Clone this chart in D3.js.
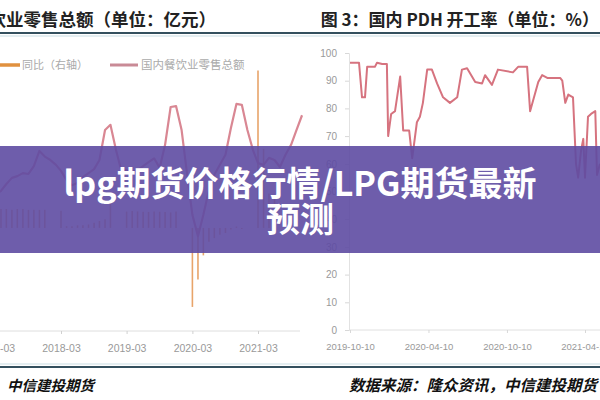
<!DOCTYPE html>
<html><head><meta charset="utf-8">
<script src="https://cdn.jsdelivr.net/npm/d3@7"></script>
<style>body{margin:0;background:#fff}svg{display:block}</style>
</head><body><svg id="c" width="600" height="400"></svg>
<script>
// ---- Left chart: 国内餐饮业零售总额 (monthly, from 2017-03) & 同比 (右轴)
const leftStart = "2017-03";
const retailTotal = [3150,3220,3380,3520,3560,3630,3610,3790,4140,4010,3930,3820,3680,3470,3350,3400,3540,3630,3720,3930,4620,4740,4160,3660,3700,3660,3700,3790,3880,3970,3750,4280,5150,5170,4620,3590,2670,2180,2670,3240,3590,3820,4050,4660,5220,5200,4620,4160,3860,3820,3980,3930,3770,4050,4280,4620,4960];
const yoyRight = [10.8,11,11,10.5,11,11,10.5,10.5,10.5,10.5,null,null,10,1,1,1.5,1.5,2,3,4,5,21,null,null,9.5,9.8,9.6,9.4,9.3,9.5,9.4,9.3,9.0,9.6,null,null,-46,-30,-16,-8,-6,-4,-3,-1,0.8,-0.6,0,null,91.6,46,20,17];
const leftTicks = ["2017-03","2018-03","2019-03","2020-03","2021-03"];

// ---- Right chart: 国内 PDH 开工率 (%)
const pdhDates = ["2019-10-10","2019-10-31","2019-11-07","2019-11-14","2019-11-19","2019-12-07","2019-12-12","2019-12-24","2020-01-04","2020-01-07","2020-01-14","2020-01-23","2020-02-04","2020-02-11","2020-02-25","2020-03-03","2020-03-14","2020-03-21","2020-03-28","2020-04-07","2020-04-18","2020-04-30","2020-05-14","2020-05-30","2020-06-16","2020-06-27","2020-07-09","2020-07-28","2020-08-13","2020-08-20","2020-09-05","2020-09-19","2020-10-24","2020-11-05","2020-11-19","2020-11-26","2020-12-03","2020-12-22","2020-12-31","2021-01-12","2021-02-11","2021-02-16","2021-02-23","2021-03-02","2021-03-13","2021-03-20","2021-03-25","2021-04-01","2021-04-06","2021-04-10","2021-04-17","2021-04-24","2021-05-04","2021-05-08","2021-05-15"];
const pdhValues = [96.5,96.5,84,84,95,95,96.5,96,96,70,78,79,91.5,72,72,62,75,77,82,94,94,89,84,82,84,94,94.5,89.5,89,92,88.5,94,93,95,95,95,79,89.5,92,91,91,90,82,85,84,60,55,65,69,55,77,78,79,56,60];
const pdhTicksY = [0,10,20,30,40,50,60,70,80,90,100];
const pdhTicksX = ["2019-10-10","2020-04-10","2020-10-10","2021-04-10"];

const titleLeft = "餐饮业零售总额（单位：亿元）";
const titleRight = "图 3：国内 PDH 开工率（单位：%）";
const legendLabels = ["同比（右轴）","国内餐饮业零售总额"];
const footLeft = "中信建投期货";
const footRight = "数据来源：隆众资讯，中信建投期货";
const bannerLines = ["lpg期货价格行情/LPG期货最新","预测"];

const svg = d3.select("#c");
const parseM = d3.timeParse("%Y-%m");
const parseD = d3.timeParse("%Y-%m-%d");
const CJK = "'Noto Sans CJK SC','Noto Sans',sans-serif";

// header / footer rules
svg.append("line").attr("x1",0).attr("x2",600).attr("y1",33).attr("y2",33).attr("stroke","#34505e").attr("stroke-width",2.2);
svg.append("line").attr("x1",0).attr("x2",600).attr("y1",36).attr("y2",36).attr("stroke","#c9dde3").attr("stroke-width",1);
svg.append("line").attr("x1",0).attr("x2",600).attr("y1",364).attr("y2",364).attr("stroke","#c9dde3").attr("stroke-width",1);
svg.append("line").attr("x1",0).attr("x2",600).attr("y1",367).attr("y2",367).attr("stroke","#34505e").attr("stroke-width",2.2);

svg.append("text").attr("x",216).attr("y",26).attr("text-anchor","end").attr("font-family",CJK).attr("font-weight",700).attr("font-size",17.5).attr("fill","#222").text(titleLeft);
svg.append("text").attr("x",599).attr("y",26).attr("text-anchor","end").attr("font-family",CJK).attr("font-weight",700).attr("font-size",17).attr("fill","#222").text(titleRight);
svg.append("text").attr("x",7).attr("y",391).attr("font-family",CJK).attr("font-weight",700).attr("font-style","italic").attr("font-size",14.5).attr("fill","#111").text(footLeft);
svg.append("text").attr("x",597).attr("y",391).attr("text-anchor","end").attr("font-family",CJK).attr("font-weight",700).attr("font-style","italic").attr("font-size",15.5).attr("fill","#111").text(footRight);

// ---- Left chart
const gL = svg.append("g");
const xL = d3.scaleTime().domain([parseM("2018-03"),parseM("2021-03")]).range([61,258]);
const yL = d3.scaleLinear().domain([0,6000]).range([331,70]);
const yR = d3.scaleLinear().domain([-60,100]).range([331,56]);
const startDate = parseM(leftStart);
const monthDate = i => d3.timeMonth.offset(startDate,i);

gL.append("line").attr("x1",0).attr("x2",300).attr("y1",331).attr("y2",331).attr("stroke","#dedede");
const axL = d3.axisBottom(xL).tickValues(leftTicks.map(parseM)).tickFormat(d3.timeFormat("%Y-%m")).tickSize(3);
const gAxL = gL.append("g").attr("transform","translate(0,331)").call(axL);
gAxL.select(".domain").remove();
gAxL.selectAll("line").attr("stroke","#d0d0d0");
gAxL.selectAll("text").attr("fill","#999").attr("font-size",10.5).attr("font-family","'Liberation Sans',sans-serif").attr("dy","1.4em");

gL.selectAll("line.bar").data(yoyRight.map((v,i)=>({v,i})).filter(d=>d.v!==null)).join("line")
  .attr("class","bar").attr("x1",d=>xL(monthDate(d.i))).attr("x2",d=>xL(monthDate(d.i)))
  .attr("y1",yR(0)).attr("y2",d=>yR(d.v)).attr("stroke","#e8a46a").attr("stroke-width",1.6);

gL.append("path").datum(retailTotal).attr("fill","none").attr("stroke","#d98793").attr("stroke-width",2.2)
  .attr("stroke-linejoin","round")
  .attr("d",d3.line().x((d,i)=>xL(monthDate(i))).y(d=>yL(d)));

// legend
gL.append("line").attr("x1",0).attr("x2",20).attr("y1",65).attr("y2",65).attr("stroke","#e0913f").attr("stroke-width",3.5);
gL.append("text").attr("x",22).attr("y",69).attr("font-family",CJK).attr("font-size",11).attr("fill","#aaa").text(legendLabels[0]);
gL.append("line").attr("x1",110).attr("x2",138).attr("y1",65).attr("y2",65).attr("stroke","#c98a96").attr("stroke-width",3);
gL.append("text").attr("x",141).attr("y",69).attr("font-family",CJK).attr("font-size",11.5).attr("fill","#aaa").text(legendLabels[1]);

// ---- Right chart
const gR = svg.append("g");
const xP = d3.scaleTime().domain([parseD("2019-10-10"),parseD("2021-04-10")]).range([350,585]);
const yP = d3.scaleLinear().domain([0,100]).range([330,53]);
gR.append("rect").attr("x",306).attr("y",40).attr("width",294).attr("height",322).attr("fill","#fff");
const axY = d3.axisLeft(yP).tickValues(pdhTicksY).tickSize(4).tickPadding(8);
const gAy = gR.append("g").attr("transform","translate(349,0)").call(axY);
gAy.select(".domain").attr("stroke","#e2e2e2");
gAy.selectAll("line").attr("stroke","#d8d8d8");
gAy.selectAll("text").attr("fill","#999").attr("font-size",10).attr("font-family","'Liberation Sans',sans-serif");
gR.append("line").attr("x1",349).attr("x2",600).attr("y1",330).attr("y2",330).attr("stroke","#e0e0e0");
const axX = d3.axisBottom(xP).tickValues(pdhTicksX.map(parseD)).tickFormat(d3.timeFormat("%Y-%m-%d")).tickSize(3);
const gAx = gR.append("g").attr("transform","translate(0,330)").call(axX);
gAx.select(".domain").remove();
gAx.selectAll("line").attr("stroke","#d8d8d8");
gAx.selectAll("text").attr("fill","#999").attr("font-size",9.5).attr("font-family","'Liberation Sans',sans-serif").attr("dy","1.5em");

gR.append("path").datum(pdhValues).attr("fill","none").attr("stroke","#d6737f").attr("stroke-width",2)
  .attr("stroke-linejoin","round")
  .attr("d",d3.line().x((d,i)=>xP(parseD(pdhDates[i]))).y(d=>yP(d)));

// ---- Banner overlay
svg.append("rect").attr("x",0).attr("y",146).attr("width",600).attr("height",107).attr("fill","#5e4ba2").attr("opacity",0.9);
svg.selectAll("text.banner").data(bannerLines).join("text").attr("class","banner")
  .attr("x",300).attr("y",(d,i)=>196+i*36).attr("text-anchor","middle")
  .attr("font-family",CJK).attr("font-weight",700).attr("font-size",34).attr("fill","#fff").text(d=>d);
</script></body></html>
